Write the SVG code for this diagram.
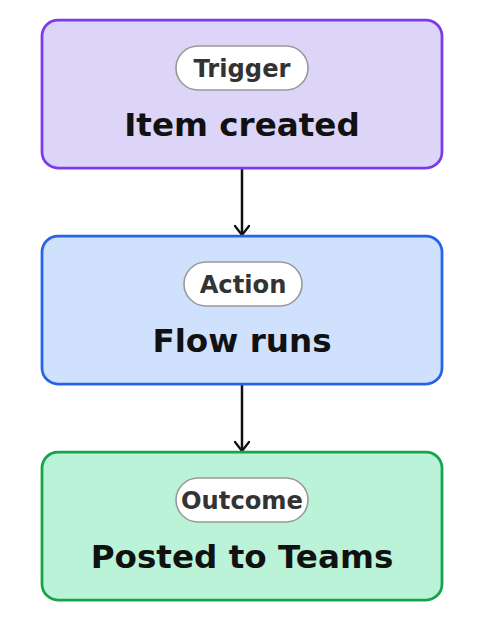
<svg xmlns="http://www.w3.org/2000/svg" width="484" height="620" viewBox="0 0 484 620">
<defs>
<marker id="arr" markerWidth="16" markerHeight="16" refX="14" refY="8" orient="auto" markerUnits="userSpaceOnUse" viewBox="0 0 16 16">
<path d="M5 1 L14 8 L5 15" fill="none" stroke="#111" stroke-width="2.3" stroke-linecap="round" stroke-linejoin="round"/>
</marker>
</defs>
<style>
.box{stroke-width:2.75}
.pill{fill:#fff;stroke:#999;stroke-width:1.6}
.tag{font-family:"DejaVu Sans",sans-serif;font-weight:bold;font-size:24.2px;fill:#333;text-anchor:middle}
.title{font-family:"DejaVu Sans",sans-serif;font-weight:bold;font-size:32.6px;fill:#111;text-anchor:middle}
.edge{stroke:#111;stroke-width:2.5;fill:none}
</style>
<rect width="484" height="620" fill="#fff"/>
<g id="connectors">
<line class="edge" x1="242" y1="169" x2="242" y2="235" marker-end="url(#arr)"/>
<line class="edge" x1="242" y1="385" x2="242" y2="451" marker-end="url(#arr)"/>
</g>
<g id="trigger">
<rect class="box" x="42" y="20" width="400" height="148" rx="16" fill="#ddd5f8" stroke="#7c3aed"/>
<rect class="pill" x="176" y="46" width="132" height="44" rx="22"/>
<text class="tag" x="242" y="76.5">Trigger</text>
<text class="title" x="242" y="136">Item created</text>
</g>
<g id="action">
<rect class="box" x="42" y="236" width="400" height="148" rx="16" fill="#cfe1fd" stroke="#2563eb"/>
<rect class="pill" x="184" y="262" width="118" height="44" rx="22"/>
<text class="tag" x="243" y="292.5">Action</text>
<text class="title" x="242" y="352">Flow runs</text>
</g>
<g id="outcome">
<rect class="box" x="42" y="452" width="400" height="148" rx="16" fill="#bbf3d8" stroke="#16a34a"/>
<rect class="pill" x="176" y="478" width="132" height="44" rx="22"/>
<text class="tag" x="242" y="508.5">Outcome</text>
<text class="title" x="242" y="568">Posted to Teams</text>
</g>
</svg>
